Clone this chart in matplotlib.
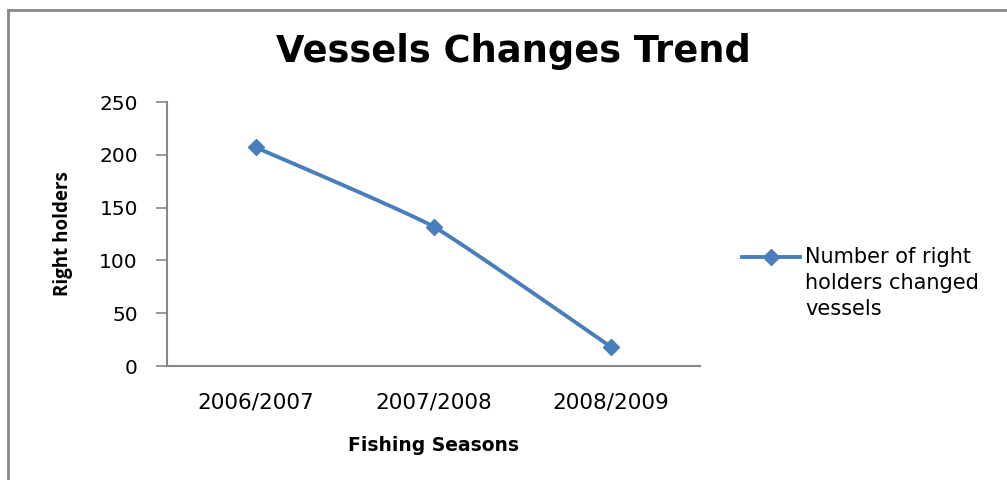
import numpy as np
import matplotlib.pyplot as plt
from matplotlib.lines import Line2D

seasons = ["2006/2007", "2007/2008", "2008/2009"]
right_holders = [207, 132, 18]
series_name = "Number of right\nholders changed\nvessels"
yticks = [0, 50, 100, 150, 200, 250]

BLUE = "#4a7ebb"
GREY = "#878787"


def smooth_curve(xs, ys, tension=1 / 14, steps=40):
    # cubic bezier pieces through the points, gentle smoothing
    pts = np.column_stack([xs, ys]).astype(float)
    padded = np.vstack([pts[0], pts, pts[-1]])
    out = []
    t = np.linspace(0, 1, steps)[:, None]
    for i in range(len(pts) - 1):
        p0, p1, p2, p3 = padded[i], padded[i + 1], padded[i + 2], padded[i + 3]
        c1 = p1 + (p2 - p0) * tension
        c2 = p2 - (p3 - p1) * tension
        seg = ((1 - t) ** 3) * p1 + 3 * ((1 - t) ** 2) * t * c1 + 3 * (1 - t) * t ** 2 * c2 + t ** 3 * p2
        out.append(seg if i == 0 else seg[1:])
    out = np.vstack(out)
    return out[:, 0], out[:, 1]


fig = plt.figure(figsize=(10.07, 4.8), dpi=100)
ax = fig.add_axes([167 / 1007, 1 - 366 / 480, (700 - 167) / 1007, (366 - 102) / 480])

x = np.arange(len(seasons))
cx, cy = smooth_curve(x, right_holders)
ax.plot(cx, cy, color=BLUE, lw=2.8, solid_capstyle="round")
ax.plot(x, right_holders, linestyle="none", marker="D", markersize=8.5, color=BLUE)

ax.set_xlim(-0.5, len(seasons) - 0.5)
ax.set_ylim(0, 250)
ax.set_yticks(yticks)
ax.set_xticks(x)
ax.set_xticklabels(seasons, fontfamily="DejaVu Sans", fontsize=15.5)
for lab in ax.get_yticklabels():
    lab.set_fontfamily("DejaVu Sans")
    lab.set_fontsize(14.5)

for s in ["top", "right"]:
    ax.spines[s].set_visible(False)
for s in ["left", "bottom"]:
    ax.spines[s].set_color(GREY)
    ax.spines[s].set_linewidth(1.5)
ax.tick_params(axis="y", length=8, width=1.2, color=GREY, pad=13)
ax.tick_params(axis="x", length=0, pad=19)

ax.set_ylabel("Right holders", fontfamily="Open Sans", fontweight="bold", fontsize=13.5, labelpad=19)
ax.set_xlabel("Fishing Seasons", fontfamily="DejaVu Sans", fontweight="bold", fontsize=13.5, labelpad=17)

fig.text(513 / 1007, 1 - 52 / 480, "Vessels Changes Trend", ha="center", va="center",
         fontfamily="DejaVu Sans", fontweight="bold", fontsize=26.5)

# legend: sample line with marker next to the first text line
lx0, lx1, ly = 742 / 1007, 800 / 1007, 1 - 257 / 480
fig.add_artist(Line2D([lx0, lx1], [ly, ly], color=BLUE, lw=2.8))
fig.add_artist(Line2D([(lx0 + lx1) / 2], [ly], color=BLUE, marker="D", markersize=8.5))
fig.text(805 / 1007, 1 - 247 / 480, series_name, ha="left", va="top",
         fontfamily="DejaVu Sans", fontsize=15, linespacing=1.38)

# outer chart border (left and top edges)
fig.add_artist(Line2D([8 / 1007, 8 / 1007], [0, 1 - 10 / 480], color=GREY, lw=2))
fig.add_artist(Line2D([8 / 1007, 1], [1 - 10 / 480, 1 - 10 / 480], color=GREY, lw=2))

fig.savefig("out.png", dpi=100)
